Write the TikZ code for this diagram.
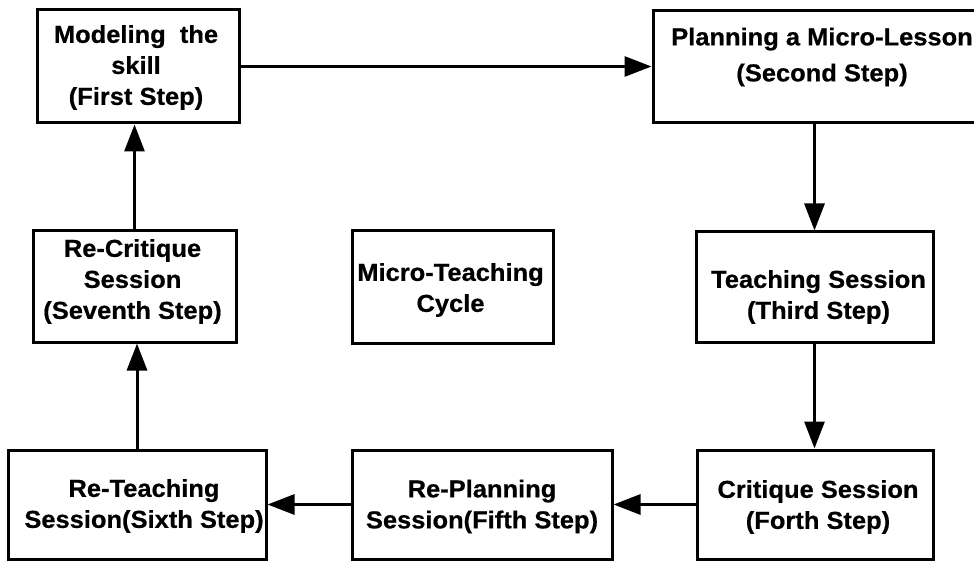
\documentclass[tikz,border=0pt]{standalone}
\usepackage{fontspec}
\newfontfamily\boxfont{Liberation Sans}[FakeStretch=1.04, BoldFeatures={FakeBold=0.6, FakeStretch=1.04}]
\usetikzlibrary{arrows.meta}
\begin{document}
\begin{tikzpicture}[x=1pt,y=-1pt,
  line width=3pt,
  box/.style={draw, rectangle, inner sep=0pt, line width=3pt},
  boxtext/.style={align=center, inner sep=0pt, font=\boxfont\bfseries\fontsize{24.5pt}{31pt}\selectfont},
  conn/.style={-{Triangle[length=27pt,width=20pt]}, line width=3pt}]
\useasboundingbox (0,0) rectangle (974,561);
\clip (0,0) rectangle (974,561);
\fill[white] (0,0) rectangle (974,561);

\node[box, minimum width=202pt, minimum height=113pt,
  label={[boxtext, shift={(-2,1)}]center:{Modeling\ \ the\\skill\\(First Step)}}] (b1) at (138,66.5) {};
\node[box, minimum width=327pt, minimum height=112pt,
  label={[boxtext, font=\boxfont\bfseries\fontsize{24.5pt}{36pt}\selectfont, shift={(5.5,-10)}]center:{Planning a Micro-Lesson\\(Second Step)}}] (b2) at (816.5,67) {};
\node[box, minimum width=237pt, minimum height=110pt,
  label={[boxtext, shift={(4,10)}]center:{Teaching Session\\(Third Step)}}] (b3) at (814.5,287) {};
\node[box, minimum width=236pt, minimum height=109pt,
  label={[boxtext, shift={(3,2.5)}]center:{Critique Session\\(Forth Step)}}] (b4) at (815,504.5) {};
\node[box, minimum width=260pt, minimum height=109pt,
  label={[boxtext, shift={(0,2)}]center:{Re-Planning\\Session(Fifth Step)}}] (b5) at (482,504.5) {};
\node[box, minimum width=258pt, minimum height=109pt,
  label={[boxtext, shift={(7,1.5)}]center:{Re-Teaching\\Session(Sixth Step)}}] (b6) at (137,504.5) {};
\node[box, minimum width=203pt, minimum height=111pt,
  label={[boxtext, shift={(-2,-5)}]center:{Re-Critique\\Session\\(Seventh Step)}}] (b7) at (134.5,286.5) {};
\node[box, minimum width=201pt, minimum height=112pt,
  label={[boxtext, shift={(-2,3)}]center:{Micro-Teaching\\Cycle}}] (bc) at (452.5,287) {};

\draw[conn] (b1.east) -- (b1.east -| b2.west);
\draw[conn] (b3.north |- b2.south) -- (b3.north);
\draw[conn] (b3.south) -- (b3.south |- b4.north);
\draw[conn] (b4.west) -- (b5.east);
\draw[conn] (b5.west) -- (b6.east);
\draw[conn] (b6.north) -- (b6.north |- b7.south);
\draw[conn] (b7.north) -- (b7.north |- b1.south);
\end{tikzpicture}
\end{document}
